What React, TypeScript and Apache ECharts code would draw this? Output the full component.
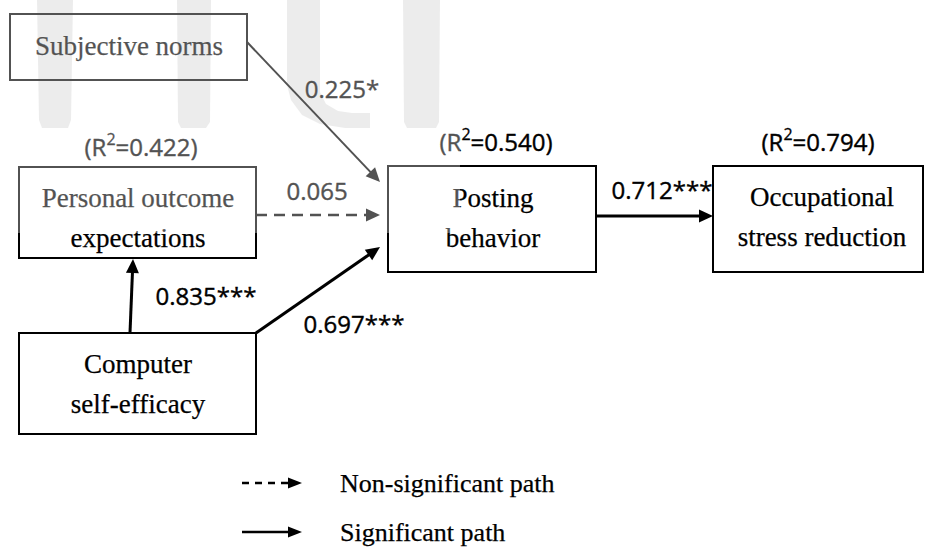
import React, { useEffect, useRef } from "react";
import * as echarts from "echarts";

// ---- data ----
const nodeLabels = [
  "Subjective norms",
  "Personal outcome\nexpectations",
  "Computer\nself-efficacy",
  "Posting\nbehavior",
  "Occupational\nstress reduction",
];
const nodeR2 = ["", "0.422", "", "0.540", "0.794"];
const pathSources = [0, 1, 2, 2, 3];
const pathTargets = [3, 3, 1, 3, 4];
const pathCoefficients = ["0.225*", "0.065", "0.835***", "0.697***", "0.712***"];
const pathSignificant = [true, false, true, true, true];
const legendLabels = ["Non-significant path", "Significant path"];

// ---- layout (pixels) ----
const nodeBoxes = [
  [10, 14, 237, 66],
  [19, 167, 237, 91],
  [19, 333, 237, 101],
  [388, 166, 208, 106],
  [713, 166, 210, 106],
];
const nodeTextPos = [
  [129, 46],
  [138, 217.5],
  [138, 383.5],
  [493, 217.5],
  [822, 217],
];
const r2Pos = [null, [141, 146], null, [496, 141], [818, 141]];
const pathEnds = [
  [247, 42, 380, 182],
  [256, 215, 380, 215],
  [130, 333, 133, 259],
  [256, 333, 380, 247],
  [596, 216, 713, 216],
];
const pathLineWidth = [2, 2.5, 3, 3, 3];
const coefPos = [
  [342, 88],
  [317, 190],
  [206, 295],
  [354, 323],
  [662, 189],
];
const legendPos = [
  [242, 302, 483],
  [242, 302, 532],
];

const SERIF = "'Liberation Serif', 'Times New Roman', serif";
const SANS = "'Open Sans', 'Noto Sans', sans-serif";

function arrow(x1: number, y1: number, x2: number, y2: number, len: number, w: number) {
  const dx = x2 - x1;
  const dy = y2 - y1;
  const L = Math.hypot(dx, dy);
  const ux = dx / L;
  const uy = dy / L;
  const bx = x2 - ux * len;
  const by = y2 - uy * len;
  const px = (-uy * w) / 2;
  const py = (ux * w) / 2;
  return {
    base: [bx + ux * 1, by + uy * 1],
    points: [
      [x2, y2],
      [bx + px, by + py],
      [bx - px, by - py],
    ],
  };
}

function buildGraphic() {
  const els: any[] = [];
  // watermark shapes
  const wm = [
    [[37, 0], [73, 0], [71, 120], [68, 128], [42, 128], [39, 120]],
    [[177, 0], [211, 0], [210, 122], [206, 128], [181, 128], [178, 122]],
    [[287, 0], [320, 0], [320, 92], [326, 104], [338, 111], [352, 113], [370, 113], [370, 128], [345, 128], [320, 124], [302, 115], [291, 100], [287, 85]],
    [[403, 0], [440, 0], [439, 122], [436, 128], [407, 128], [404, 122]],
  ];
  wm.forEach((pts) =>
    els.push({ type: "polygon", z: 0, silent: true, shape: { points: pts }, style: { fill: "#e4e4e4" } })
  );

  // boxes
  nodeBoxes.forEach((b, i) => {
    els.push({
      type: "rect",
      z: 10,
      shape: { x: b[0], y: b[1], width: b[2], height: b[3] },
      style: { fill: "none", stroke: "#000", lineWidth: 2 },
    });
    els.push({
      type: "text",
      z: 11,
      x: nodeTextPos[i][0],
      y: nodeTextPos[i][1],
      style: {
        text: nodeLabels[i],
        fontSize: 27,
        fontFamily: SERIF,
        fill: "#000",
        stroke: "#000",
        lineWidth: 0.25,
        align: "center",
        verticalAlign: "middle",
        lineHeight: 40,
      },
    });
    const rp = r2Pos[i];
    if (nodeR2[i] && rp) {
      els.push({
        type: "text",
        z: 11,
        x: rp[0],
        y: rp[1],
        style: {
          text: "(R{sup|2}=" + nodeR2[i] + ")",
          fontSize: 24,
          fontFamily: SANS,
          fill: "#000",
          stroke: "#000",
          lineWidth: 0.4,
          lineHeight: 30,
          align: "center",
          verticalAlign: "middle",
          rich: {
            sup: {
              fontSize: 16,
              fontFamily: SANS,
              fill: "#000",
              stroke: "#000",
              lineWidth: 0.3,
              verticalAlign: "top",
              lineHeight: 16,
            },
          },
        },
      });
    }
  });

  // paths
  pathSources.forEach((s, i) => {
    const [x1, y1, x2, y2] = pathEnds[i];
    const a = arrow(x1, y1, x2, y2, 14, 13);
    els.push({
      type: "line",
      z: 10,
      shape: { x1, y1, x2: a.base[0], y2: a.base[1] },
      style: {
        stroke: "#000",
        lineWidth: pathLineWidth[i],
        lineDash: pathSignificant[i] ? null : [11, 7],
      },
    });
    els.push({ type: "polygon", z: 10, shape: { points: a.points }, style: { fill: "#000" } });
    els.push({
      type: "text",
      z: 11,
      x: coefPos[i][0],
      y: coefPos[i][1],
      style: {
        text: pathCoefficients[i],
        fontSize: 24,
        fontFamily: SANS,
        fill: "#000",
        stroke: "#000",
        lineWidth: 0.4,
        align: "center",
        verticalAlign: "middle",
      },
    });
  });

  // legend
  legendLabels.forEach((lab, i) => {
    const [x1, x2, y] = legendPos[i];
    const a = arrow(x1, y, x2, y, 14, 11);
    els.push({
      type: "line",
      z: 10,
      shape: { x1, y1: y, x2: a.base[0], y2: y },
      style: { stroke: "#000", lineWidth: 2.5, lineDash: i === 0 ? [7, 6] : null },
    });
    els.push({ type: "polygon", z: 10, shape: { points: a.points }, style: { fill: "#000" } });
    els.push({
      type: "text",
      z: 11,
      x: 340,
      y: y,
      style: {
        text: lab,
        fontSize: 26,
        fontFamily: SERIF,
        fill: "#000",
        stroke: "#000",
        lineWidth: 0.25,
        align: "left",
        verticalAlign: "middle",
      },
    });
  });

  // translucent watermark veil
  els.push({
    type: "rect",
    z: 100,
    silent: true,
    shape: { x: 0, y: 0, width: 460, height: 233 },
    style: { fill: "rgba(255,255,255,0.32)" },
  });
  return els;
}

export default function App() {
  const ref = useRef<HTMLDivElement>(null);
  useEffect(() => {
    if (!ref.current) return;
    const chart = echarts.init(ref.current, null, { renderer: "svg" });
    chart.setOption({
      animation: false,
      backgroundColor: "#fff",
      graphic: { elements: buildGraphic() },
    });
    return () => chart.dispose();
  }, []);
  return (
    <div
      ref={ref}
      style={{ position: "fixed", left: 0, top: 0, width: 925, height: 548, background: "#fff" }}
    />
  );
}
